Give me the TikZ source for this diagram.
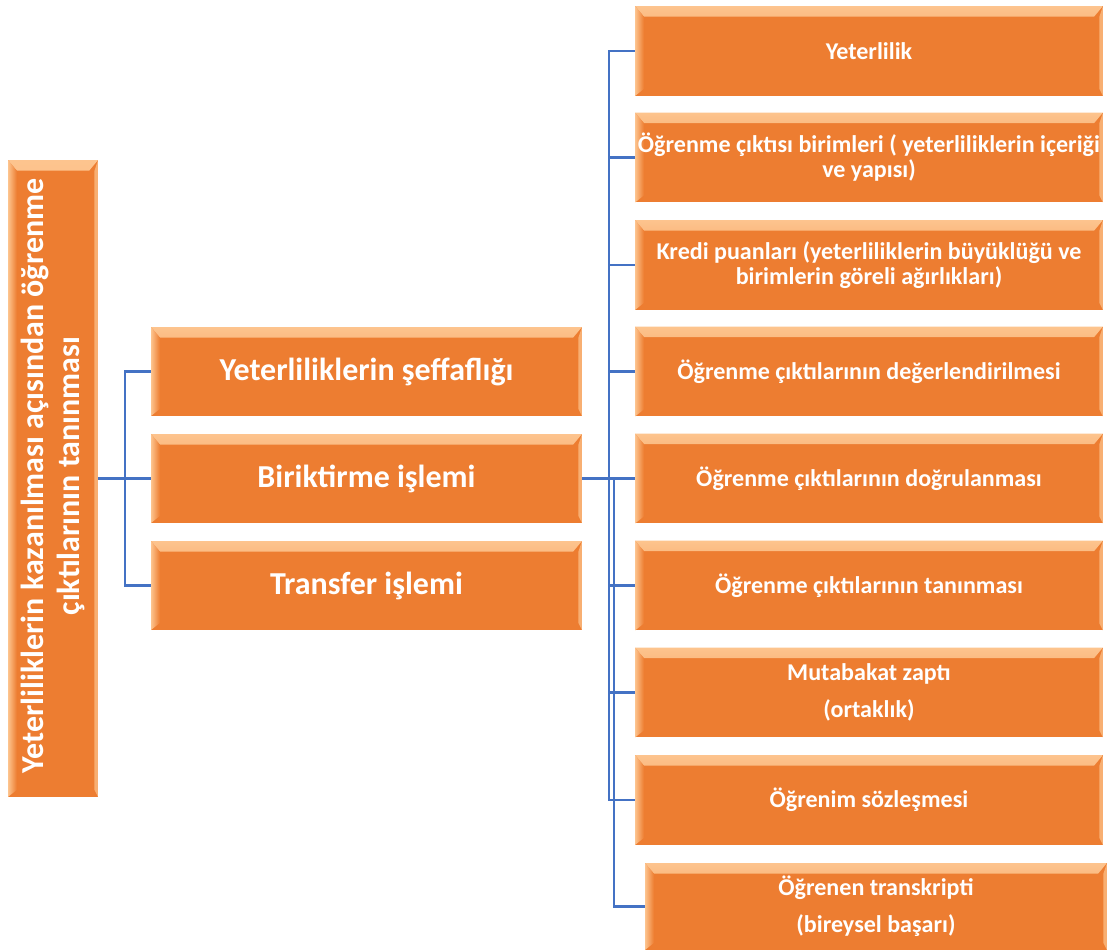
\documentclass[tikz,border=0pt]{standalone}
\usepackage{fontspec}
\setmainfont{Carlito}
\usetikzlibrary{calc}
\definecolor{boxorange}{HTML}{ED7D31}
\definecolor{bevellight}{HTML}{FDC48E}
\definecolor{linkblue}{HTML}{4472C4}
\tikzset{
	box/.style={fill=boxorange, text=white, align=center, inner sep=0pt,
		font=\bfseries,
		path picture={
			\shade[top color=bevellight, bottom color=boxorange]
				(path picture bounding box.north west) -- (path picture bounding box.north east)
				-- ([xshift=-5pt,yshift=-6pt]path picture bounding box.north east)
				-- ([xshift=5pt,yshift=-6pt]path picture bounding box.north west) -- cycle;
			\shade[left color=bevellight, right color=boxorange]
				(path picture bounding box.north west) -- ([xshift=5pt,yshift=-6pt]path picture bounding box.north west)
				-- ([xshift=5pt,yshift=4pt]path picture bounding box.south west)
				-- (path picture bounding box.south west) -- cycle;
			\fill[bevellight!70!boxorange]
				(path picture bounding box.north east) -- ([xshift=-2pt,yshift=-6pt]path picture bounding box.north east)
				-- ([xshift=-2pt,yshift=4pt]path picture bounding box.south east)
				-- (path picture bounding box.south east) -- cycle;
		}},
	rootbox/.style={box, minimum width=1.8cm, minimum height=12.74cm},
	midbox/.style={box, minimum width=8.62cm, minimum height=1.78cm, font=\bfseries\fontsize{18.2}{21}\selectfont},
	itembox/.style={box, minimum width=9.36cm, minimum height=1.8cm, font=\bfseries\fontsize{13.7}{14.2}\selectfont},
	conn/.style={draw=linkblue, line width=1.7pt}
}

\begin{document}
\begin{tikzpicture}[x=0.02cm, y=-0.02cm]
		%%%%% START %%%%%
		\useasboundingbox (0, 0) rectangle (1107, 950);
		
		\node[rootbox] (root) at (53, 478.5) {};
		\node[rotate=90, text=white, align=center, font=\bfseries\fontsize{18.2}{20}\selectfont] (roottext) at (53, 476)
			{Yeterliliklerin kazanılması açısından öğrenme\\çıktılarının tanınması};
		
		\node[midbox] (mid1) at (366.5, 371.5) {Yeterliliklerin şeffaflığı};
		\node[midbox] (mid2) at (366.5, 478.5) {Biriktirme işlemi};
		\node[midbox] (mid3) at (366.5, 585.5) {Transfer işlemi};
		
		\node[itembox] (r1) at (869, 51) {Yeterlilik};
		\node[itembox] (r2) at (869, 157.5) {Öğrenme çıktısı birimleri ( yeterliliklerin içeriği\\ve yapısı)};
		\node[itembox] (r3) at (869, 265) {Kredi puanları (yeterliliklerin büyüklüğü ve\\birimlerin göreli ağırlıkları)};
		\node[itembox] (r4) at (869, 371.5) {Öğrenme çıktılarının değerlendirilmesi};
		\node[itembox] (r5) at (869, 478.5) {Öğrenme çıktılarının doğrulanması};
		\node[itembox] (r6) at (869, 585.5) {Öğrenme çıktılarının tanınması};
		\node[itembox] (r7) at (869, 692.5) {Mutabakat zaptı\\[7pt](ortaklık)};
		\node[itembox] (r8) at (869, 800) {Öğrenim sözleşmesi};
		\node[itembox, minimum width=9.24cm, minimum height=1.74cm] (r9) at (876, 906.5) {Öğrenen transkripti\\[7pt](bireysel başarı)};
		
		% left tree
		\coordinate (ltrunk) at (125, 478.5);
		\draw[conn] (root.east) -- (mid2.west);
		\draw[conn] (mid1.west) -| (ltrunk) |- (mid3.west);
		
		% right tree
		\coordinate (rtrunk) at (609, 478.5);
		\coordinate (rtrunkb) at (614, 478.5);
		\draw[conn] (mid2.east) -- (rtrunkb);
		\foreach \i in {1,...,8}
			\draw[conn] (rtrunk) |- (r\i.west);
		\draw[conn] (rtrunkb) |- (r9.west);
		
		%%%%% END %%%%%
	\end{tikzpicture}
\end{document}
